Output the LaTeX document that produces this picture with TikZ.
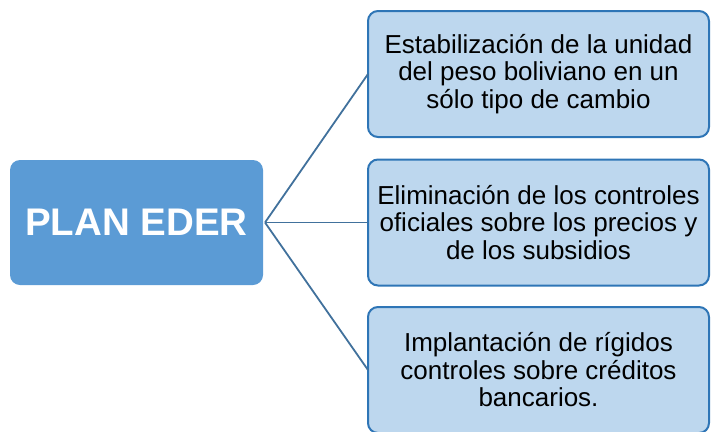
\documentclass[tikz,border=0pt]{standalone}
\usepackage{fontspec}
\setmainfont{Liberation Sans}
\usepackage{tikz}
\usetikzlibrary{positioning}

\definecolor{planblue}{HTML}{5B9BD5}
\definecolor{itemfill}{HTML}{BDD7EE}
\definecolor{itemdraw}{HTML}{2E75B6}
\definecolor{linkblue}{HTML}{41719C}

\begin{document}
\begin{tikzpicture}[x=1pt, y=-1pt,
      plan/.style={fill=planblue, text=white, minimum width=253pt, minimum height=125pt,
                   inner sep=0pt, outer sep=0pt, rounded corners=10pt,
                   font=\fontsize{38.5}{40}\selectfont\bfseries},
      item/.style={draw=itemdraw, line width=2pt, fill=itemfill, minimum width=341pt,
                   minimum height=126pt, inner sep=0pt, outer sep=0pt, rounded corners=10pt,
                   align=center, font=\fontsize{26}{27.5}\selectfont},
      link/.style={draw=linkblue, line width=1.8pt}]

    \useasboundingbox (0,0) rectangle (711,431);

    % ---- Root ----
    \node[plan] (plan) at (136.5, 222.5) {PLAN EDER};

    % ---- Measures ----
    \node[item] (estab) at (538.5, 74) {Estabilización de la unidad\\del peso boliviano en un\\sólo tipo de cambio};
    \node[item] (elim) at (538.5, 222.5) {Eliminación de los controles\\oficiales sobre los precios y\\de los subsidios};
    \node[item] (impl) at (538.5, 370) {Implantación de rígidos\\controles sobre créditos\\bancarios.};

    % ---- Links ----
    \coordinate (fork) at ([xshift=2pt]plan.east);
    \draw[link] (fork) -- (estab.west);
    \draw[link] (fork) -- (elim.west);
    \draw[link] (fork) -- (impl.west);

\end{tikzpicture}
\end{document}
